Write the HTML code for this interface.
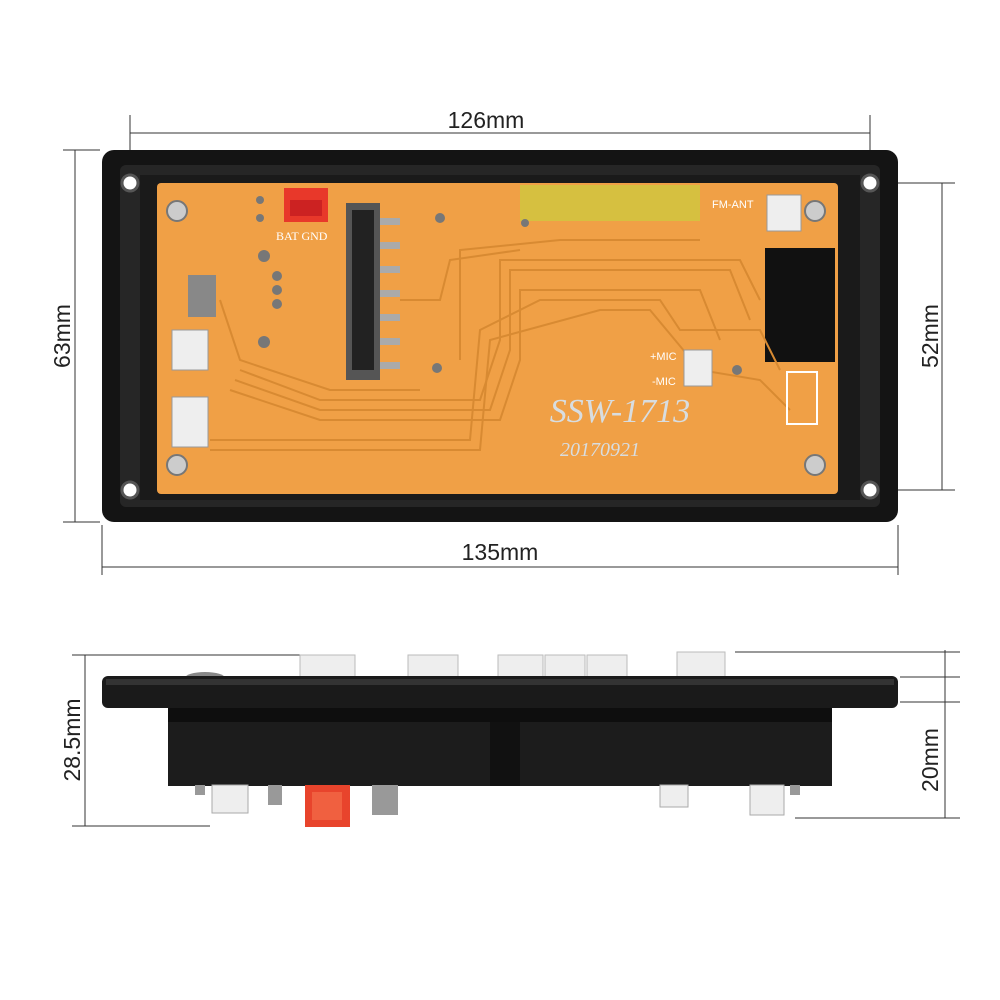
<!DOCTYPE html>
<html><head><meta charset="utf-8"><style>
html,body{margin:0;padding:0;background:#fff;}
svg{display:block;font-family:"Liberation Sans",sans-serif;}
</style></head><body>
<svg width="1000" height="1000" viewBox="0 0 1000 1000" xmlns="http://www.w3.org/2000/svg">
<!-- top dimension -->
<g stroke="#333" stroke-width="1">
<line x1="130" y1="133" x2="870" y2="133"/>
<line x1="130" y1="115" x2="130" y2="180"/>
<line x1="870" y1="115" x2="870" y2="180"/>
<line x1="102" y1="567" x2="898" y2="567"/>
<line x1="102" y1="525" x2="102" y2="575"/>
<line x1="898" y1="525" x2="898" y2="575"/>
<line x1="75" y1="150" x2="75" y2="522"/>
<line x1="63" y1="150" x2="100" y2="150"/>
<line x1="63" y1="522" x2="100" y2="522"/>
<line x1="942" y1="183" x2="942" y2="490"/>
<line x1="880" y1="183" x2="955" y2="183"/>
<line x1="880" y1="490" x2="955" y2="490"/>
<!-- side view dims -->
<line x1="85" y1="655" x2="85" y2="826"/>
<line x1="72" y1="655" x2="300" y2="655"/>
<line x1="72" y1="826" x2="210" y2="826"/>
<line x1="945" y1="650" x2="945" y2="818"/>
<line x1="735" y1="652" x2="960" y2="652"/>
<line x1="900" y1="677" x2="960" y2="677"/>
<line x1="900" y1="702" x2="960" y2="702"/>
<line x1="795" y1="818" x2="960" y2="818"/>
</g>
<g font-size="23" fill="#222" text-anchor="middle">
<text x="486" y="128">126mm</text>
<text x="500" y="560">135mm</text>
<text x="0" y="0" transform="translate(70,336) rotate(-90)">63mm</text>
<text x="0" y="0" transform="translate(938,336) rotate(-90)">52mm</text>
<text x="0" y="0" transform="translate(80,740) rotate(-90)">28.5mm</text>
<text x="0" y="0" transform="translate(938,760) rotate(-90)">20mm</text>
</g>
<!-- top board frame -->
<rect x="102" y="150" width="796" height="372" rx="12" fill="#141414"/>
<rect x="120" y="165" width="760" height="342" rx="6" fill="#262626"/>
<rect x="140" y="175" width="720" height="325" fill="#1a1a1a"/>
<circle cx="130" cy="183" r="8" fill="#fff" stroke="#555" stroke-width="3"/>
<circle cx="870" cy="183" r="8" fill="#fff" stroke="#555" stroke-width="3"/>
<circle cx="130" cy="490" r="8" fill="#fff" stroke="#555" stroke-width="3"/>
<circle cx="870" cy="490" r="8" fill="#fff" stroke="#555" stroke-width="3"/>
<!-- pcb -->
<rect x="157" y="183" width="681" height="311" rx="4" fill="#f0a046"/>
<rect x="520" y="185" width="180" height="36" fill="#d6c040"/>
<rect x="765" y="248" width="70" height="114" fill="#111"/>
<!-- traces -->
<g stroke="#d88a32" stroke-width="2" fill="none">
<path d="M240 370 L320 400 L480 400 L500 340 L500 260 L740 260 L760 300"/>
<path d="M235 380 L320 410 L490 410 L510 350 L510 270 L730 270 L750 320"/>
<path d="M230 390 L320 420 L500 420 L520 360 L520 290 L700 290 L720 340"/>
<path d="M210 440 L470 440 L480 330 L540 300 L660 300 L680 330 L760 330 L780 370"/>
<path d="M210 450 L480 450 L490 340 L600 310 L650 310 L700 370 L760 380 L790 410"/>
<path d="M460 360 L460 250 L560 240 L700 240"/>
<path d="M400 300 L440 300 L450 260 L520 250"/>
<path d="M220 300 L240 360 L330 390 L420 390"/>
</g>
<!-- sd slot -->
<rect x="346" y="203" width="34" height="177" fill="#555"/>
<rect x="352" y="210" width="22" height="160" fill="#222"/>
<g fill="#aaa"><rect x="380" y="218" width="20" height="7"/><rect x="380" y="242" width="20" height="7"/><rect x="380" y="266" width="20" height="7"/><rect x="380" y="290" width="20" height="7"/><rect x="380" y="314" width="20" height="7"/><rect x="380" y="338" width="20" height="7"/><rect x="380" y="362" width="20" height="7"/></g>
<!-- red BAT connector -->
<rect x="284" y="188" width="44" height="34" fill="#e8382a"/>
<rect x="290" y="200" width="32" height="16" fill="#c22"/>
<text x="276" y="240" font-size="12" fill="#fff" font-family="Liberation Serif,serif">BAT  GND</text>
<!-- white connectors -->
<rect x="172" y="330" width="36" height="40" fill="#eee" stroke="#999"/>
<rect x="172" y="397" width="36" height="50" fill="#eee" stroke="#999"/>
<rect x="767" y="195" width="34" height="36" fill="#eee" stroke="#999"/>
<rect x="684" y="350" width="28" height="36" fill="#eee" stroke="#999"/>
<rect x="787" y="372" width="30" height="52" fill="none" stroke="#fff" stroke-width="2"/>
<rect x="188" y="275" width="28" height="42" fill="#888"/>
<text x="712" y="208" font-size="11" fill="#fff">FM-ANT</text>
<text x="650" y="360" font-size="11" fill="#fff">+MIC</text>
<text x="652" y="385" font-size="11" fill="#fff">-MIC</text>
<!-- screws -->
<g fill="#ccc" stroke="#777" stroke-width="2"><circle cx="177" cy="211" r="10"/><circle cx="815" cy="211" r="10"/><circle cx="177" cy="465" r="10"/><circle cx="815" cy="465" r="10"/></g>
<g fill="#777"><circle cx="260" cy="200" r="4"/><circle cx="260" cy="218" r="4"/><circle cx="264" cy="256" r="6"/><circle cx="277" cy="276" r="5"/><circle cx="277" cy="290" r="5"/><circle cx="277" cy="304" r="5"/><circle cx="264" cy="342" r="6"/><circle cx="440" cy="218" r="5"/><circle cx="525" cy="223" r="4"/><circle cx="737" cy="370" r="5"/><circle cx="437" cy="368" r="5"/></g>
<text x="620" y="422" font-size="34" fill="#d8dde0" text-anchor="middle" font-style="italic" font-family="Liberation Serif,serif">SSW-1713</text>
<text x="600" y="456" font-size="20" fill="#d8dde0" text-anchor="middle" font-style="italic" font-family="Liberation Serif,serif">20170921</text>
<!-- side view -->
<g fill="#eee" stroke="#bbb">
<rect x="300" y="655" width="55" height="22"/>
<rect x="408" y="655" width="50" height="22"/>
<rect x="498" y="655" width="45" height="22"/>
<rect x="545" y="655" width="40" height="22"/>
<rect x="587" y="655" width="40" height="22"/>
<rect x="677" y="652" width="48" height="25"/>
</g>
<ellipse cx="205" cy="678" rx="20" ry="6" fill="#888"/>
<rect x="102" y="676" width="796" height="32" rx="6" fill="#1a1a1a"/>
<rect x="106" y="679" width="788" height="6" fill="#333"/>
<rect x="168" y="708" width="664" height="78" fill="#1c1c1c"/>
<rect x="168" y="708" width="664" height="14" fill="#0e0e0e"/>
<rect x="490" y="722" width="30" height="64" fill="#111"/>
<g fill="#eee" stroke="#aaa">
<rect x="212" y="785" width="36" height="28"/>
<rect x="660" y="785" width="28" height="22"/>
<rect x="750" y="785" width="34" height="30"/>
</g>
<rect x="305" y="785" width="45" height="42" fill="#e8442c"/>
<rect x="312" y="792" width="30" height="28" fill="#f06040"/>
<g fill="#999"><rect x="268" y="785" width="14" height="20"/><rect x="372" y="785" width="26" height="30"/><rect x="195" y="785" width="10" height="10"/><rect x="790" y="785" width="10" height="10"/></g>
</svg>
</body></html>
